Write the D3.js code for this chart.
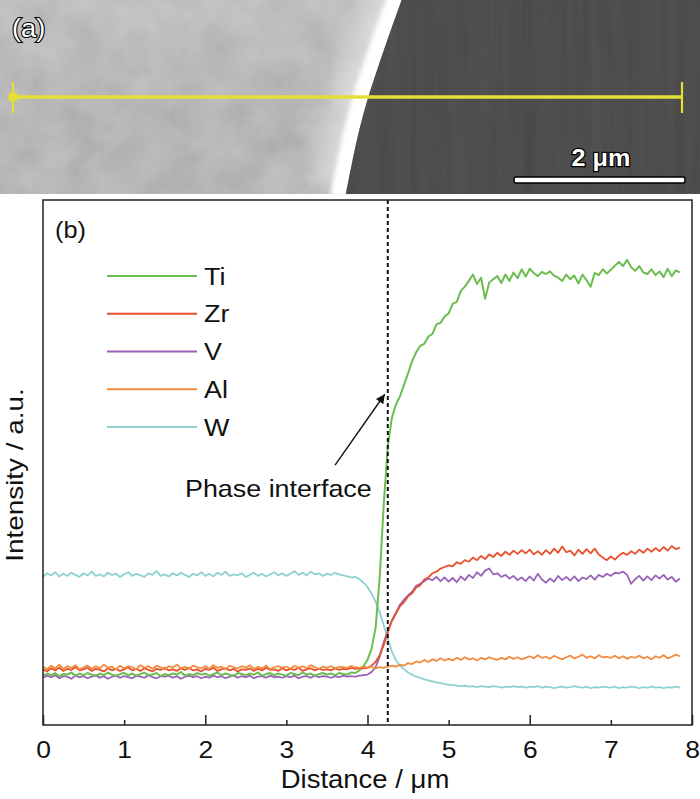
<!DOCTYPE html>
<html>
<head>
<meta charset="utf-8">
<script src="https://cdn.jsdelivr.net/npm/d3@7"></script>
<style>
    body { margin: 0; background: #fff; }
    svg text { font-family: 'Liberation Sans', Arial, sans-serif; fill: #111; }
</style>
</head>
<body>
<div id="chart"></div>
<script>
'use strict';

// line scan, distance in um (0.05 um steps)
const distance = [
    0, 0.05, 0.1, 0.15, 0.2, 0.25, 0.3, 0.35, 0.4, 0.45,
    0.5, 0.55, 0.6, 0.65, 0.7, 0.75, 0.8, 0.85, 0.9, 0.95,
    1, 1.05, 1.1, 1.15, 1.2, 1.25, 1.3, 1.35, 1.4, 1.45,
    1.5, 1.55, 1.6, 1.65, 1.7, 1.75, 1.8, 1.85, 1.9, 1.95,
    2, 2.05, 2.1, 2.15, 2.2, 2.25, 2.3, 2.35, 2.4, 2.45,
    2.5, 2.55, 2.6, 2.65, 2.7, 2.75, 2.8, 2.85, 2.9, 2.95,
    3, 3.05, 3.1, 3.15, 3.2, 3.25, 3.3, 3.35, 3.4, 3.45,
    3.5, 3.55, 3.6, 3.65, 3.7, 3.75, 3.8, 3.85, 3.9, 3.95,
    4, 4.05, 4.1, 4.15, 4.2, 4.25, 4.3, 4.35, 4.4, 4.45,
    4.5, 4.55, 4.6, 4.65, 4.7, 4.75, 4.8, 4.85, 4.9, 4.95,
    5, 5.05, 5.1, 5.15, 5.2, 5.25, 5.3, 5.35, 5.4, 5.45,
    5.5, 5.55, 5.6, 5.65, 5.7, 5.75, 5.8, 5.85, 5.9, 5.95,
    6, 6.05, 6.1, 6.15, 6.2, 6.25, 6.3, 6.35, 6.4, 6.45,
    6.5, 6.55, 6.6, 6.65, 6.7, 6.75, 6.8, 6.85, 6.9, 6.95,
    7, 7.05, 7.1, 7.15, 7.2, 7.25, 7.3, 7.35, 7.4, 7.45,
    7.5, 7.55, 7.6, 7.65, 7.7, 7.75, 7.8, 7.85
];

// intensities, arbitrary units (0 = axis, 100 = top of frame)
const tiValues = [
    9.4, 9.8, 9.5, 9.9, 9.3, 9.7, 9.6, 10.0, 9.4, 9.8,
    9.5, 9.9, 9.6, 9.3, 9.8, 9.5, 10.0, 9.6, 9.4, 9.7,
    9.9, 9.5, 9.8, 9.4, 9.7, 10.0, 9.5, 9.6, 9.9, 9.3,
    9.7, 9.5, 9.8, 9.6, 10.1, 9.4, 9.7, 9.5, 9.9, 9.6,
    9.8, 9.4, 9.7, 10.0, 9.5, 9.8, 9.6, 9.3, 9.9, 9.7,
    9.5, 9.8, 9.6, 10.0, 9.4, 9.7, 9.9, 9.5, 9.8, 9.6,
    9.4, 9.9, 9.7, 9.5, 10.0, 9.6, 9.8, 9.4, 9.7, 9.9,
    9.6, 9.8, 9.5, 9.9, 9.7, 9.6, 10.0, 9.9, 10.4, 11.2,
    12.4, 14.5, 18.5, 28, 42, 53, 58.5, 61, 62.6, 64.8,
    67, 69.3, 71, 72.2, 72.6, 74, 74.5, 76.3, 76.6, 77.8,
    78.4, 80.2, 80.6, 82.7, 83.5, 84.6, 85.8, 84, 85.2, 81.2,
    84.3, 84.9, 85.5, 84.2, 85.8, 84.6, 86.2, 85.1, 86.8, 85.4,
    86.9, 86.1, 85.5, 86.3, 85.9, 86.4, 85.6, 85.2, 84.6, 85.8,
    84.9, 85.6, 84.1, 85.8, 84.7, 83.5, 86.1, 85.7, 86.8, 86,
    86.7, 87.5, 88.2, 87.4, 88.6, 87.2, 86.5, 87.4, 86.2, 85.9,
    86.8, 85.7, 86.4, 85.3, 86.9, 85.5, 86.6, 86.2
];

const zrValues = [
    10.6, 10.2, 10.8, 10.4, 10.9, 10.3, 10.7, 10.5, 11.0, 10.4,
    10.6, 10.9, 10.3, 10.7, 10.5, 10.2, 10.8, 10.4, 10.7, 10.3,
    10.6, 11.0, 10.4, 10.7, 10.3, 10.8, 10.5, 10.2, 10.7, 10.5,
    10.9, 10.4, 10.6, 10.3, 10.8, 10.5, 10.9, 10.4, 10.6, 10.2,
    10.7, 10.5, 10.9, 10.3, 10.6, 10.8, 10.4, 10.7, 10.2, 10.6,
    10.5, 10.8, 10.3, 10.7, 10.4, 10.9, 10.5, 10.6, 10.3, 10.8,
    10.4, 10.7, 10.5, 10.9, 10.3, 10.6, 10.8, 10.4, 10.7, 10.5,
    10.6, 10.4, 10.8, 10.5, 10.7, 10.6, 10.9, 10.7, 10.8, 10.8,
    10.9, 11.3, 12, 13.3, 15.2, 17.6, 19.8, 21.2, 22.6, 23.4,
    24.5, 25.1, 26.2, 26.6, 27.7, 28.1, 28.9, 29.2, 29.8, 30.1,
    30.4, 30.2, 31, 30.7, 31.4, 31.1, 31.9, 31.4, 32.2, 31.6,
    32.5, 32, 32.8, 32.2, 33, 32.4, 33.2, 32.6, 33.3, 32.7,
    33.4, 32.5, 33.1, 32.4, 33.3, 32.6, 33.6, 32.8, 34, 32.9,
    33.2, 32.3, 33.4, 32.6, 33.5, 32.7, 33.6, 32.5, 31.9, 31.4,
    32.1, 31.5, 32.3, 32.8, 32.4, 33.1, 32.6, 33.4, 32.8, 33.6,
    33, 33.7, 33.1, 33.9, 33.2, 34.1, 33.5, 33.8
];

const vValues = [
    9.0, 9.4, 9.1, 9.5, 8.9, 9.3, 9.2, 8.8, 9.4, 9.1,
    9.3, 8.9, 9.2, 9.5, 9.0, 9.3, 8.8, 9.2, 9.4, 9.0,
    9.3, 9.1, 8.9, 9.4, 9.2, 9.0, 9.5, 9.1, 8.9, 9.3,
    9.2, 9.4, 9.0, 9.3, 8.8, 9.2, 9.4, 9.1, 9.3, 8.9,
    9.2, 9.0, 9.4, 9.1, 9.3, 8.9, 9.2, 9.5, 9.0, 9.3,
    9.1, 9.4, 8.9, 9.2, 9.3, 9.0, 9.4, 9.1, 9.2, 9.0,
    9.3, 9.1, 9.4, 8.9, 9.2, 9.3, 9.0, 9.4, 9.1, 9.3,
    9.2, 9.0, 9.3, 9.1, 9.4, 9.2, 9.3, 9.2, 9.4, 9.5,
    9.6, 10.1, 11, 13, 15.8, 17.9, 19.9, 21.4, 22.9, 23.9,
    24.7, 25.4, 26.5, 26.9, 27.4, 27.9, 27.6, 28.2, 27.4, 28.1,
    27.3, 28, 27.2, 28.3, 27.6, 28.6, 28, 29.1, 28.4, 29.4,
    29.8, 28.7, 28.9, 28.2, 28.6, 27.9, 28.4, 27.6, 28.1, 27.4,
    28.3, 27.5, 28.8, 27.7, 27.1, 27.9, 27.3, 28.4, 27.6, 28.2,
    27.5, 28.3, 27.4, 28.1, 27.8, 28.5, 27.7, 28.6, 28.2, 28.8,
    28.4, 29, 28.9, 29.2, 28.6, 26.9, 27.8, 28.4, 27.5, 28.3,
    27.6, 28.5, 27.9, 28.6, 27.7, 28.2, 27.3, 27.9
];

const alValues = [
    11.1, 10.6, 11.3, 10.8, 11.5, 10.7, 11.2, 10.9, 11.4, 10.6,
    11.0, 11.3, 10.7, 11.2, 10.8, 11.5, 10.9, 11.1, 10.6, 11.3,
    10.8, 11.2, 11.0, 10.6, 11.4, 10.9, 11.2, 10.7, 11.3, 11.0,
    10.6, 11.2, 10.9, 11.5, 10.8, 11.1, 10.7, 11.3, 11.0, 10.8,
    11.2, 10.7, 11.4, 10.9, 11.1, 10.6, 11.3, 11.0, 10.8, 11.2,
    10.9, 11.4, 10.7, 11.1, 10.8, 11.3, 10.6, 11.0, 11.2, 10.9,
    11.1, 10.7, 11.3, 10.9, 11.2, 10.8, 11.4, 11.0, 10.7, 11.1,
    10.9, 11.2, 10.8, 11.1, 11.0, 10.9, 11.2, 11.0, 10.9, 11.1,
    10.9, 11.1, 10.8, 11.0, 10.9, 11.1, 11.3, 11.1, 11.5, 11.3,
    11.8, 11.6, 12.1, 11.9, 12.4, 12.0, 12.5, 12.2, 12.7, 12.3,
    12.6, 12.3, 12.8, 12.4, 12.9, 12.5, 12.7, 12.3, 12.8, 12.5,
    12.9, 12.6, 12.4, 12.8, 12.5, 13.0, 12.6, 12.9, 12.5, 12.8,
    13.1, 12.7, 13.3, 12.8, 13.0, 12.6, 13.2, 12.8, 12.5, 12.9,
    13.2, 12.7, 13.0, 13.4, 12.8, 13.1, 12.7, 13.3, 12.9, 13.0,
    12.8, 13.2, 12.7, 13.1, 12.6, 13.0, 12.8, 13.2, 12.7, 13.0,
    12.5, 13.1, 12.8, 13.3, 12.7, 13.0, 13.4, 13.1
];

const wValues = [
    28.2, 28.9, 28.5, 29.1, 28.3, 28.8, 28.4, 29.0, 28.6, 28.2,
    28.9, 28.5, 29.2, 28.4, 28.7, 28.3, 29.0, 28.6, 28.8, 28.2,
    28.7, 29.1, 28.4, 28.8, 28.5, 28.2, 28.9, 28.6, 29.3, 28.4,
    28.7, 28.3, 28.9, 28.5, 29.0, 28.6, 28.2, 28.8, 28.5, 29.1,
    28.4, 28.8, 28.3, 29.0, 28.6, 29.2, 28.4, 28.7, 28.5, 28.9,
    28.2, 28.6, 29.0, 28.4, 28.8, 28.3, 28.7, 29.1, 28.5, 28.9,
    28.4, 28.8, 29.3, 28.6, 29.0, 28.5, 29.2, 28.7, 28.9, 28.4,
    28.8, 28.6, 29.0, 28.7, 28.5, 28.3, 28.1, 28.2, 27.8, 27.1,
    26.3, 25, 23.5, 21.5, 19, 16.5, 14, 12.4, 11.3, 10.6,
    10, 9.6, 9.2, 9, 8.7, 8.5, 8.3, 8.1, 8, 7.8,
    7.7, 7.6, 7.5, 7.4, 7.5, 7.3, 7.4, 7.2, 7.4, 7.3,
    7.2, 7.4, 7.3, 7.1, 7.3, 7.2, 7.4, 7.2, 7.3, 7.1,
    7.3, 7.2, 7.4, 7.1, 7.3, 7.2, 7.0, 7.2, 7.3, 7.1,
    7.2, 7.4, 7.2, 7.1, 7.3, 7.0, 7.2, 7.1, 7.3, 7.2,
    7.1, 7.3, 7.0, 7.2, 7.1, 7.3, 7.2, 7.0, 7.2, 7.1,
    7.3, 7.1, 7.2, 7.0, 7.2, 7.1, 7.3, 7.1
];

const elements = ['Ti', 'Zr', 'V', 'Al', 'W'];
const xTickValues = [0, 1, 2, 3, 4, 5, 6, 7, 8];
const interfaceAt = 4.25;

const colours = {
    Ti: '#6cbd4f',
    Zr: '#e8512b',
    V: '#9a63b8',
    Al: '#f28b3d',
    W: '#8ed1d1'
};
const seriesValues = { Ti: tiValues, Zr: zrValues, V: vValues, Al: alValues, W: wValues };
const drawOrder = ['W', 'V', 'Ti', 'Zr', 'Al'];

const width = 700, height = 799;
const stretch = 1.1; // the original lettering is a little wider than Arial

const svg = d3.select('#chart').append('svg')
    .attr('width', width)
    .attr('height', height);

const defs = svg.append('defs');

function textAt(g, str, x, y, size, anchor = 'start', rotate = 0, sx = stretch) {
    return g.append('text')
        .attr('transform', `translate(${x},${y}) rotate(${rotate}) scale(${sx},1)`)
        .attr('text-anchor', anchor)
        .style('font-size', size + 'px')
        .text(str);
}

// ---------- (a) SEM micrograph ----------
const imgH = 194;
const sem = svg.append('g').attr('class', 'sem');

function noiseFilter(id, freq, octaves, seed) {
    let f = defs.append('filter').attr('id', id)
        .attr('filterUnits', 'userSpaceOnUse')
        .attr('x', 0).attr('y', 0).attr('width', width).attr('height', imgH);
    f.append('feTurbulence').attr('type', 'fractalNoise')
        .attr('baseFrequency', freq).attr('numOctaves', octaves).attr('seed', seed);
    f.append('feColorMatrix').attr('type', 'matrix')
        .attr('values', '0.33 0.33 0.33 0 0  0.33 0.33 0.33 0 0  0.33 0.33 0.33 0 0  0 0 0 0 1');
}
noiseFilter('grain', '0.03', 4, 11);
noiseFilter('streaks', '0.09 0.004', 3, 3);

function blurFilter(id, sd) {
    defs.append('filter').attr('id', id)
        .attr('filterUnits', 'userSpaceOnUse')
        .attr('x', -20).attr('y', -40).attr('width', width + 40).attr('height', imgH + 80)
        .append('feGaussianBlur').attr('stdDeviation', sd);
}
blurFilter('soft', 2.2);
blurFilter('glow', 12);

let topLight = defs.append('linearGradient').attr('id', 'topLight')
    .attr('x1', 0).attr('y1', 0).attr('x2', 0).attr('y2', 1);
topLight.append('stop').attr('offset', '0%').attr('stop-color', '#fff').attr('stop-opacity', 0.12);
topLight.append('stop').attr('offset', '60%').attr('stop-color', '#fff').attr('stop-opacity', 0);

const edgePts = [[403, -4], [389, 35], [377, 70], [367, 100], [359, 130], [352, 162], [345, 198]];
const edgePath = d3.line().curve(d3.curveBasis)(edgePts);
const darkPath = edgePath + `L${width},${imgH + 4}L${width},-4Z`;

defs.append('clipPath').attr('id', 'leftSide')
    .append('path').attr('d', edgePath + `L0,${imgH + 4}L0,-4Z`);
defs.append('clipPath').attr('id', 'rightSide')
    .append('path').attr('d', darkPath);
defs.append('clipPath').attr('id', 'imgBox')
    .append('rect').attr('width', width).attr('height', imgH);

const semBox = sem.append('g').attr('clip-path', 'url(#imgBox)');

semBox.append('rect').attr('width', width).attr('height', imgH).attr('fill', '#b6b6b6');
semBox.append('rect').attr('width', width).attr('height', imgH)
    .attr('filter', 'url(#grain)').attr('opacity', 0.26);
semBox.append('rect').attr('width', width).attr('height', imgH).attr('fill', 'url(#topLight)');

let leftSide = semBox.append('g').attr('clip-path', 'url(#leftSide)');
leftSide.append('path').attr('d', edgePath)
    .attr('fill', 'none').attr('stroke', '#fff').attr('stroke-width', 70)
    .attr('opacity', 0.45).attr('filter', 'url(#glow)');
leftSide.append('path').attr('d', edgePath)
    .attr('fill', 'none').attr('stroke', '#fff').attr('stroke-width', 30)
    .attr('filter', 'url(#soft)');
leftSide.append('path').attr('d', edgePath)
    .attr('fill', 'none').attr('stroke', '#fff').attr('stroke-width', 14);

let dark = semBox.append('g').attr('clip-path', 'url(#rightSide)');
dark.append('rect').attr('width', width).attr('height', imgH).attr('fill', '#3d3d3d');
dark.append('rect').attr('width', width).attr('height', imgH)
    .attr('filter', 'url(#streaks)').attr('opacity', 0.13);

// yellow scan line
const scanY = 97, scanX0 = 13, scanX1 = 682;
const yellow = '#e4df34';
sem.append('line').attr('x1', scanX0).attr('x2', scanX1).attr('y1', scanY).attr('y2', scanY)
    .attr('stroke', yellow).attr('stroke-width', 3.5);
[scanX0, scanX1].forEach(px => {
    sem.append('line').attr('x1', px).attr('x2', px).attr('y1', scanY - 15).attr('y2', scanY + 16)
        .attr('stroke', yellow).attr('stroke-width', 2.2);
});
sem.append('circle').attr('cx', scanX0).attr('cy', scanY).attr('r', 5).attr('fill', yellow);

// scale bar
sem.append('rect').attr('x', 514).attr('y', 177).attr('width', 171).attr('height', 6)
    .attr('rx', 2).attr('fill', '#fff').attr('stroke', '#000').attr('stroke-width', 1.5);

textAt(sem, '2 μm', 601, 166, 24, 'middle', 0, 1.05)
    .style('fill', '#fff').style('font-weight', 'bold')
    .style('stroke', '#000').style('stroke-width', 2.5).style('paint-order', 'stroke');

textAt(sem, '(a)', 12, 37, 26, 'start', 0, 1.05)
    .style('fill', '#fff')
    .style('stroke', '#000').style('stroke-width', 2.2).style('paint-order', 'stroke');

// ---------- (b) line scan profile ----------
const scaleX = d3.scaleLinear().domain([0, 8]).range([43, 692]);
const scaleY = d3.scaleLinear().domain([0, 100]).range([725, 200]);

const plot = svg.append('g').attr('class', 'profile');

let lineGen = d3.line()
    .x((d, i) => scaleX(distance[i]))
    .y(d => scaleY(d));

drawOrder.forEach(name => {
    plot.append('path')
        .datum(seriesValues[name])
        .attr('d', lineGen)
        .attr('fill', 'none')
        .attr('stroke', colours[name])
        .attr('stroke-width', name === 'Ti' ? 2 : 1.8)
        .attr('stroke-linejoin', 'round');
});

// phase interface marker
plot.append('line')
    .attr('x1', scaleX(interfaceAt)).attr('x2', scaleX(interfaceAt))
    .attr('y1', scaleY(100)).attr('y2', scaleY(0))
    .attr('stroke', '#111').attr('stroke-width', 2)
    .attr('stroke-dasharray', '4,3');

// frame
plot.append('rect')
    .attr('x', scaleX(0)).attr('y', scaleY(100))
    .attr('width', scaleX(8) - scaleX(0)).attr('height', scaleY(0) - scaleY(100))
    .attr('fill', 'none').attr('stroke', '#222').attr('stroke-width', 1.5);

// x axis, ticks pointing inwards, odd ones shorter
let axisX = plot.append('g')
    .attr('transform', `translate(0,${scaleY(0)})`)
    .call(d3.axisBottom(scaleX).tickValues(xTickValues).tickSize(-10).tickPadding(16).tickFormat(d3.format('d')));
axisX.select('.domain').remove();
axisX.selectAll('.tick line')
    .attr('stroke', '#222').attr('stroke-width', 1.5)
    .attr('y2', d => d % 2 ? -5 : -10);
axisX.selectAll('.tick text')
    .attr('fill', '#111')
    .attr('transform', `scale(${stretch},1)`)
    .style('font-size', '24px')
    .style('font-family', "'Liberation Sans', Arial, sans-serif");

textAt(plot, 'Distance / μm', 365, 788, 25, 'middle');
textAt(plot, 'Intensity / a.u.', 23, 475, 24, 'middle', -90, 1.16);
textAt(plot, '(b)', 55, 238, 23);

// legend
let legendY = d3.scalePoint().domain(elements).range([276, 427]);
let legend = plot.append('g').attr('class', 'legend');
elements.forEach(name => {
    let ly = legendY(name);
    legend.append('line')
        .attr('x1', 107).attr('x2', 197).attr('y1', ly).attr('y2', ly)
        .attr('stroke', colours[name]).attr('stroke-width', 2);
    textAt(legend, name, 204, ly + 8.5, 24, 'start', 0, 1.12);
});

// annotation arrow
defs.append('marker').attr('id', 'arrowHead')
    .attr('viewBox', '0 0 10 10').attr('refX', 10).attr('refY', 5)
    .attr('markerWidth', 13).attr('markerHeight', 9).attr('markerUnits', 'userSpaceOnUse')
    .attr('orient', 'auto')
    .append('path').attr('d', 'M0,0L10,5L0,10Z').attr('fill', '#111');

plot.append('line')
    .attr('x1', scaleX(3.6)).attr('y1', scaleY(49.5))
    .attr('x2', scaleX(interfaceAt) - 3).attr('y2', scaleY(63))
    .attr('stroke', '#111').attr('stroke-width', 1.4)
    .attr('marker-end', 'url(#arrowHead)');

textAt(plot, 'Phase interface', 185, 497, 24, 'start', 0, 1.12);
</script>
</body>
</html>
